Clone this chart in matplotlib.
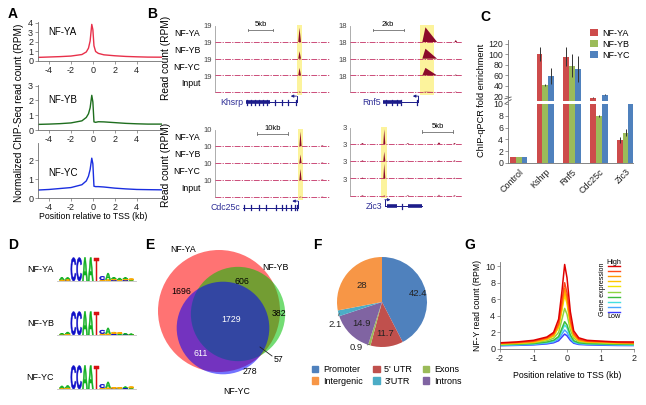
import numpy as np
import matplotlib
matplotlib.use('Agg')
import matplotlib.pyplot as plt
from matplotlib.patches import Circle, Patch, PathPatch, Rectangle
from matplotlib.textpath import TextPath
from matplotlib.font_manager import FontProperties
from matplotlib.transforms import Affine2D, blended_transform_factory

plt.rcParams['font.family'] = ['Liberation Sans', 'DejaVu Sans']
plt.rcParams['axes.linewidth'] = 0.6
plt.rcParams['axes.unicode_minus'] = False

# ---------------- data ----------------
# A: average NF-Y profiles around TSS
a_x = [-5, -4, -3, -2, -1, -0.6, -0.4, -0.25, -0.1, 0.0, 0.1, 0.25, 0.5, 1, 2, 3, 4, 5, 6.3]
a_ya = [0.38, 0.42, 0.46, 0.52, 0.68, 0.95, 1.35, 2.1, 3.85, 3.3, 1.6, 1.0, 0.8, 0.65, 0.55, 0.48, 0.44, 0.41, 0.4]
a_yb = [0.38, 0.4, 0.43, 0.48, 0.62, 0.85, 1.1, 1.5, 2.35, 1.9, 0.55, 0.52, 0.56, 0.55, 0.5, 0.45, 0.42, 0.4, 0.4]
a_yc = [0.42, 0.45, 0.5, 0.55, 0.7, 0.9, 1.15, 1.5, 2.1, 1.8, 0.62, 0.6, 0.6, 0.58, 0.52, 0.48, 0.45, 0.44, 0.43]
a_names = ['NF-YA', 'NF-YB', 'NF-YC']
a_colors = ['#e8304a', '#1e6e1e', '#1a2ee0']

# B: browser tracks
b_genes = ['Khsrp', 'Rnf5', 'Cdc25c', 'Zic3']
b_tracks = ['NF-YA', 'NF-YB', 'NF-YC', 'Input']
b_window = [23, 7.2, 37, 18]
b_track_max = ['19', '18', '10', '3']
b_scale_len = [5, 2, 10, 5]
b_scale_start = [6.6, 1.45, 13.5, 11.6]
b_peak_kb = [16.9, 4.85, 27.5, 5.5]
b_peak_left = [0.25, 0.2, 0.35, 0.15]
b_peak_right = [0.3, 0.75, 0.35, 0.18]
b_peak_height = [[0.85, 0.45, 0.45, 0.03],
                 [0.88, 0.6, 0.45, 0.02],
                 [0.85, 0.5, 0.65, 0.02],
                 [0.85, 0.55, 0.85, 0.03]]
b_bump_kb = [[], [6.8], [34.5], [2.0, 9.3, 14.3, 16.8]]
b_bump_height = [[], [[0.12, 0.0, 0.06, 0.03]], [[0.04, 0.03, 0.03, 0.02]],
                 [[0.06, 0.05, 0.05, 0.04], [0.05, 0.03, 0.04, 0.04],
                  [0.1, 0.04, 0.05, 0.05], [0.06, 0.05, 0.04, 0.04]]]
b_highlight = [(16.4, 17.4), (4.5, 5.4), (26.7, 28.3), (5.0, 5.95)]
b_gene_span = [(6.2, 16.3), (2.15, 4.4), (9.0, 26.7), (5.6, 11.6)]
b_gene_thick = [[(6.2, 11.0)], [(2.15, 3.35)], [], [(5.9, 7.5), (9.3, 11.6)]]
b_gene_exons = [[6.4, 7.2, 8.0, 8.8, 9.6, 10.4, 12.0, 13.4, 14.6, 16.1],
                [2.3, 2.7, 3.0, 3.3, 4.3],
                [9.3, 11.5, 14.0, 16.5, 19.5, 21.5, 23.0, 24.5, 25.8, 26.5],
                [8.4]]
b_gene_strand = ['-', '-', '-', '+']

# C: ChIP-qPCR
c_groups = ['Control', 'Kshrp', 'Rnf5', 'Cdc25c', 'Zic3']
c_ya = [1, 100, 95, 17, 3.9]
c_yb = [1, 41, 78, 7.9, 5.1]
c_yc = [1, 58, 72, 23, 10.4]
c_ya_err = [0, 13, 18, 1.0, 0.5]
c_yb_err = [0, 1.5, 22, 0.2, 0.6]
c_yc_err = [0, 15, 25, 0.8, 0.3]

# D: motif logos (stacks bottom->top)
logo_ya = [[('G', 0.1), ('A', 0.22)], [('C', 0.05), ('G', 0.1), ('A', 0.15)],
           [('C', 2.0)], [('C', 2.0)], [('A', 2.0)], [('A', 2.0)], [('T', 2.0)],
           [('G', 0.1), ('C', 0.3)], [('G', 0.12), ('A', 0.55)],
           [('C', 0.08), ('G', 0.12), ('A', 0.12)], [('G', 0.1), ('A', 0.15)],
           [('C', 0.08), ('G', 0.12), ('A', 0.1)], [('A', 0.08), ('G', 0.12)]]
logo_yb = [[('G', 0.05), ('A', 0.1)], [('G', 0.1), ('A', 0.15)],
           [('C', 2.0)], [('C', 2.0)], [('A', 2.0)], [('A', 2.0)], [('T', 2.0)],
           [('G', 0.12), ('C', 0.3)], [('G', 0.1), ('A', 0.5)],
           [('C', 0.1), ('G', 0.15)], [('A', 0.1), ('G', 0.12)],
           [('C', 0.05), ('A', 0.1)], [('G', 0.05), ('A', 0.05)]]
logo_yc = [[('G', 0.08), ('A', 0.18)], [('G', 0.1), ('A', 0.2)],
           [('C', 2.0)], [('C', 2.0)], [('A', 2.0)], [('A', 2.0)], [('T', 2.0)],
           [('G', 0.1), ('C', 0.3)], [('G', 0.1), ('A', 0.5)],
           [('C', 0.05), ('G', 0.1)], [('A', 0.05), ('G', 0.1)],
           [('C', 0.08), ('A', 0.12)], [('A', 0.08), ('G', 0.12)]]
logo_colors = {'A': '#10b020', 'C': '#1010c8', 'G': '#f5a800', 'T': '#d81010'}

# E: Venn counts
e_only_a, e_only_b, e_only_c = 1696, 382, 278
e_ab, e_ac, e_bc, e_abc = 606, 611, 57, 1729

# F: peak distribution (%)
f_labels = ['Promoter', "5' UTR", 'Exons', 'Introns', "3'UTR", 'Intergenic']
f_values = [42.4, 11.7, 0.9, 14.9, 2.1, 28]
f_colors = ['#4f81bd', '#c0504d', '#9bbb59', '#8064a2', '#4bacc6', '#f79646']

# G: profiles by gene expression (high -> low)
g_x = [-2, -1.5, -1, -0.6, -0.4, -0.25, -0.15, -0.07, 0.0, 0.1, 0.2, 0.35, 0.6, 1.0, 1.5, 2.0]
g_curves = [
    [0.75, 0.85, 1.05, 1.45, 2.0, 3.6, 7.0, 10.2, 8.6, 4.5, 2.2, 1.35, 1.05, 0.95, 0.85, 0.85],
    [0.7, 0.8, 0.95, 1.35, 1.85, 3.1, 5.8, 8.0, 6.8, 3.6, 1.9, 1.2, 0.95, 0.9, 0.8, 0.75],
    [0.68, 0.75, 0.9, 1.25, 1.7, 2.9, 5.3, 7.3, 6.2, 3.3, 1.75, 1.1, 0.9, 0.85, 0.78, 0.72],
    [0.65, 0.72, 0.85, 1.2, 1.6, 2.7, 5.0, 6.9, 5.9, 3.1, 1.65, 1.05, 0.88, 0.82, 0.75, 0.7],
    [0.62, 0.7, 0.82, 1.15, 1.55, 2.6, 4.7, 6.5, 5.5, 2.9, 1.55, 1.0, 0.85, 0.8, 0.72, 0.68],
    [0.58, 0.64, 0.75, 1.0, 1.3, 2.0, 3.6, 4.9, 4.2, 2.3, 1.3, 0.9, 0.78, 0.72, 0.66, 0.62],
    [0.52, 0.58, 0.66, 0.85, 1.05, 1.5, 2.5, 3.3, 2.9, 1.7, 1.0, 0.75, 0.66, 0.62, 0.58, 0.55],
    [0.48, 0.54, 0.62, 0.8, 0.98, 1.4, 2.2, 2.9, 2.55, 1.5, 0.92, 0.7, 0.62, 0.58, 0.54, 0.5],
    [0.44, 0.48, 0.56, 0.7, 0.85, 1.2, 1.8, 2.3, 2.0, 1.25, 0.8, 0.62, 0.56, 0.52, 0.48, 0.46],
    [0.4, 0.44, 0.5, 0.62, 0.75, 1.0, 1.45, 1.8, 1.6, 1.05, 0.7, 0.55, 0.5, 0.46, 0.43, 0.42],
]
g_colors = ['#e00000', '#ff4a1a', '#ff9a00', '#ffc400', '#f2e400',
            '#8fd640', '#3cbc3c', '#46e0e0', '#4aa8ff', '#3a3aff']

# ---------------- figure ----------------
W, H = 646, 405
fig = plt.figure(figsize=(W / 100, H / 100), dpi=100)


def px_ax(l, t, r, b):
    return fig.add_axes([l / W, 1 - b / H, (r - l) / W, (b - t) / H])


def ftext(x, y, s, **kw):
    fig.text(x / W, 1 - y / H, s, **kw)


def clean(ax):
    for s in ['top', 'right']:
        ax.spines[s].set_visible(False)
    for s in ['left', 'bottom']:
        ax.spines[s].set_color('#707070')
    ax.tick_params(labelsize=6.5, length=2, width=0.5, pad=1.5, colors='#707070', labelcolor='#222')


# panel letters
for lab, x, y in [('A', 13, 14), ('B', 152, 14), ('C', 485, 17), ('D', 13, 245),
                  ('E', 150, 245), ('F', 317, 245), ('G', 470, 245)]:
    ftext(x, y, lab, fontsize=10, fontweight='bold', ha='center', va='center')

# ---- A ----
a_boxes = [(22, 61), (85, 130), (143, 198)]
a_ylims = [4.1, 3.05, 2.9]
a_yticks = [[0, 1, 2, 3, 4], [0, 1, 2, 3], [0, 1, 2]]
a_name_y = [32, 100, 173]
for prof, name, col, (t, b), yl, yt, ny in zip([a_ya, a_yb, a_yc], a_names, a_colors,
                                              a_boxes, a_ylims, a_yticks, a_name_y):
    ax = px_ax(38, t, 162, b)
    ax.plot(a_x, prof, color=col, lw=1.0)
    ax.set_xlim(-5, 6.3)
    ax.set_ylim(0, yl)
    ax.set_xticks([-4, -2, 0, 2, 4])
    ax.set_yticks(yt)
    clean(ax)
    ftext(48, ny, name, fontsize=7, va='center')
ftext(19, 113, 'Normalized ChIP-Seq read count (RPM)', rotation=90, fontsize=7.2,
      ha='center', va='center')
ftext(93, 217, 'Position relative to TSS (kb)', fontsize=6.3, ha='center', va='center')

# ---- B ----
b_layout = [(215, 330, 42, 16.7), (350, 462, 42, 16.7), (215, 330, 146, 17.0), (350, 462, 144, 17.2)]
gene_col = '#1c1c8a'
peak_col = '#8b0a2a'
for k in range(4):
    x0, x1, yA, u = b_layout[k]
    win = b_window[k]
    ax = px_ax(x0, yA - 1.25 * u, x1, yA + 4 * u)
    ax.set_xlim(0, win)
    ax.set_ylim(-1, 4.25)
    ax.axis('off')
    hl = b_highlight[k]
    ax.add_patch(Rectangle((hl[0], -0.15), hl[1] - hl[0], 4.15, color='#fcf39c', lw=0, zorder=0))
    ax.plot([0, 0], [0, 3.95], color='#a0a0a0', lw=0.6)
    p = b_peak_kb[k]
    for i in range(4):
        base = 3 - i
        ax.plot([0, win], [base, base], color='#c43064', lw=0.6, dashes=(7, 1.5, 1.5, 1.5), zorder=2)
        h = b_peak_height[k][i]
        ax.fill([p - b_peak_left[k], p, p + b_peak_right[k]], [base, base + h, base],
                color=peak_col, lw=0, zorder=3)
        for bk, bh in zip(b_bump_kb[k], b_bump_height[k]):
            ax.fill([bk - 0.012 * win, bk, bk + 0.012 * win], [base, base + bh[i], base],
                    color=peak_col, lw=0, zorder=3)
        ax.annotate(b_track_max[k], xy=(0, base + 0.9), xycoords=('axes fraction', 'data'),
                    xytext=(-2.5, 0), textcoords='offset points', ha='right', va='center',
                    fontsize=5.5, color='#444')
        if k in (0, 2):
            ax.annotate(b_tracks[i], xy=(0, base + 0.5), xycoords=('axes fraction', 'data'),
                        xytext=(-10.5, 0), textcoords='offset points', ha='right', va='center',
                        fontsize=6.3)
    # scale bar
    s0 = b_scale_start[k]
    s1 = s0 + b_scale_len[k]
    ax.plot([s0, s1], [3.72, 3.72], color='#707070', lw=0.6)
    ax.plot([s0, s0], [3.64, 3.8], color='#707070', lw=0.6)
    ax.plot([s1, s1], [3.64, 3.8], color='#707070', lw=0.6)
    ax.text((s0 + s1) / 2, 3.82, '%dkb' % b_scale_len[k], ha='center', va='bottom', fontsize=5.5)
    # gene model
    yg = -0.62
    gs, ge = b_gene_span[k]
    ax.plot([gs, ge], [yg, yg], color=gene_col, lw=0.7)
    for s, e in b_gene_thick[k]:
        ax.plot([s, e], [yg, yg], color=gene_col, lw=2.6, solid_capstyle='butt')
    for ex in b_gene_exons[k]:
        ax.plot([ex, ex], [yg - 0.14, yg + 0.14], color=gene_col, lw=0.9)
    tss = ge if b_gene_strand[k] == '-' else gs
    d = -1 if b_gene_strand[k] == '-' else 1
    ax.plot([tss, tss], [yg, yg + 0.38], color=gene_col, lw=0.7)
    ax.annotate('', xy=(tss + d * 0.05 * win, yg + 0.38), xytext=(tss, yg + 0.38),
                arrowprops=dict(arrowstyle='-|>', lw=0.6, color=gene_col, mutation_scale=4,
                                shrinkA=0, shrinkB=0))
    ax.text(gs - 0.025 * win, yg, b_genes[k], ha='right', va='center', fontsize=6.3, color='#2e2e96')
ftext(166, 58, 'Read count (RPM)', rotation=90, fontsize=7.3, ha='center', va='center')
ftext(166, 165, 'Read count (RPM)', rotation=90, fontsize=7.3, ha='center', va='center')

# ---- C ----
c_k = 0.0888
c_gap = 0.4


def c_fwd(y):
    y = np.asarray(y, dtype=float)
    return np.where(y <= 10, y, 10 + c_gap + (y - 10) * c_k)


def c_inv(v):
    v = np.asarray(v, dtype=float)
    return np.where(v <= 10, v, np.where(v < 10 + c_gap, 10, 10 + (v - 10 - c_gap) / c_k))


ax = px_ax(508, 40, 633, 163)
ax.set_yscale('function', functions=(c_fwd, c_inv))
xg = np.arange(len(c_groups))
bw = 0.22
ekw = dict(ecolor='#333333', elinewidth=0.7, capsize=0)
ax.bar(xg - bw, c_ya, bw, yerr=c_ya_err, color='#cd4b4b', error_kw=ekw, label='NF-YA')
ax.bar(xg, c_yb, bw, yerr=c_yb_err, color='#9bbb59', error_kw=ekw, label='NF-YB')
ax.bar(xg + bw, c_yc, bw, yerr=c_yc_err, color='#4f81bd', error_kw=ekw, label='NF-YC')
ax.axhspan(10, 10.01, color='white', lw=0, zorder=2.2)
ax.set_ylim(0, 127)
ax.set_xlim(-0.4, 4.28)
ax.set_yticks([0, 2, 4, 6, 8, 10, 20, 40, 60, 80, 100, 120])
ax.set_yticklabels(['0', '2', '4', '6', '8', '10', '20', '40', '60', '80', '100', '120'])
ax.yaxis.set_minor_locator(matplotlib.ticker.NullLocator())
ax.set_xticks(xg)
ax.set_xticklabels(c_groups, rotation=45, ha='right', rotation_mode='anchor')
clean(ax)
ax.tick_params(axis='y', labelsize=6.3)
ax.tick_params(axis='x', length=0, pad=3)
blend = blended_transform_factory(ax.transAxes, ax.transData)
for yy in (11.0, 16.0):
    ax.plot([-0.025, 0.025], [yy - 1.0, yy + 2.5], transform=blend, color='#555', lw=0.6, clip_on=False)
ax.legend(loc='upper left', bbox_to_anchor=(590 / W, 1 - 29 / H), bbox_transform=fig.transFigure,
          frameon=False, fontsize=6.5, handlelength=0.9, handleheight=0.8, labelspacing=0.2,
          handletextpad=0.5, borderpad=0, borderaxespad=0)
ftext(481, 100, 'ChIP-qPCR fold enrichment', rotation=90, fontsize=6.6, ha='center', va='center')

# ---- D ----
logo_fp = FontProperties(family='Liberation Sans', weight='bold')


def draw_letter(ax, ch, x, y, w, h):
    tp = TextPath((0, 0), ch, size=1, prop=logo_fp)
    bb = tp.get_extents()
    tr = Affine2D().translate(-bb.x0, -bb.y0).scale(w / bb.width, h / bb.height).translate(x, y)
    ax.add_patch(PathPatch(tr.transform_path(tp), fc=logo_colors[ch], ec=logo_colors[ch], lw=0.35))


for name, cols, by, ly in zip(a_names, [logo_ya, logo_yb, logo_yc], [281, 335, 389], [270, 323, 377]):
    ax = px_ax(59, by - 24, 134, by)
    ax.set_xlim(-0.5, len(cols) - 0.5)
    ax.set_ylim(0, 2.05)
    ax.axis('off')
    for j, stack in enumerate(cols):
        y = 0
        for ch, h in stack:
            draw_letter(ax, ch, j - 0.45, y, 0.9, h)
            y += h
    ax.plot([-0.8, len(cols) - 0.2], [0, 0], color='#c0c0c0', lw=0.6, clip_on=False)
    ftext(54, ly, name, ha='right', va='center', fontsize=6.5)

# ---- E ----
tot_a = e_only_a + e_ab + e_ac + e_abc
tot_b = e_only_b + e_ab + e_bc + e_abc
tot_c = e_only_c + e_ac + e_bc + e_abc
rk = 61 / np.sqrt(tot_a)
ax = px_ax(140, 235, 300, 405)
ax.set_xlim(140, 300)
ax.set_ylim(405, 235)
ax.set_aspect('equal')
ax.axis('off')
ax.add_patch(Circle((219, 311), rk * np.sqrt(tot_a), fc='#ff0000', alpha=0.55, lw=0))
ax.add_patch(Circle((238, 314), rk * np.sqrt(tot_b), fc='#00c000', alpha=0.55, lw=0))
ax.add_patch(Circle((223, 328), rk * np.sqrt(tot_c), fc='#0000ff', alpha=0.55, lw=0))
vfs = 6.3
ax.text(183, 250, 'NF-YA', fontsize=vfs, ha='center', va='center')
ax.text(275, 267, 'NF-YB', fontsize=vfs, ha='center', va='center')
ax.text(237, 392, 'NF-YC', fontsize=vfs, ha='center', va='center')
ax.text(181, 291, str(e_only_a), fontsize=vfs, ha='center', va='center')
ax.text(242, 281, str(e_ab), fontsize=vfs, ha='center', va='center')
ax.text(279, 314, str(e_only_b), fontsize=vfs, ha='center', va='center')
ax.text(231, 320, str(e_abc), fontsize=vfs, ha='center', va='center', color='white')
ax.text(201, 354, str(e_ac), fontsize=vfs, ha='center', va='center', color='white')
ax.text(279, 360, str(e_bc), fontsize=vfs, ha='center', va='center')
ax.text(250, 372, str(e_only_c), fontsize=vfs, ha='center', va='center')
ax.plot([260, 272], [347, 356], color='#222', lw=0.6)

# ---- F ----
ax = px_ax(337, 257, 427, 347)
wedges, _ = ax.pie(f_values, colors=f_colors, startangle=90, counterclock=False,
                   wedgeprops=dict(linewidth=0))
ax.set_xlim(-1, 1)
ax.set_ylim(-1, 1)
f_label_r = [0.83, 0.7, None, 0.66, None, 0.58]
f_out_text = {2: (-0.42, -1.02), 4: (-0.9, -0.5)}
for idx, (w, v, r) in enumerate(zip(wedges, f_values, f_label_r)):
    ang = np.deg2rad((w.theta1 + w.theta2) / 2)
    if r is not None:
        ax.text(r * np.cos(ang), r * np.sin(ang), '%g' % v, ha='center', va='center',
                fontsize=6.8, color='#222')
    else:
        ax.annotate('%g' % v, xy=(np.cos(ang) * 0.98, np.sin(ang) * 0.98), xytext=f_out_text[idx],
                    ha='right', va='center', fontsize=6.8, color='#222',
                    arrowprops=dict(arrowstyle='-', lw=0.5, color='#555', shrinkA=1, shrinkB=0))
f_order = [0, 5, 1, 4, 2, 3]
fig.legend([Patch(color=f_colors[i]) for i in f_order], [f_labels[i] for i in f_order],
           ncol=3, loc='upper left', bbox_to_anchor=(312 / W, 1 - 365 / H), frameon=False,
           fontsize=6.5, handlelength=0.7, handleheight=0.7, handletextpad=0.5,
           columnspacing=1.2, labelspacing=0.3, borderpad=0, borderaxespad=0)

# ---- G ----
ax = px_ax(500, 262, 634, 349)
for curve, col in reversed(list(zip(g_curves, g_colors))):
    ax.plot(g_x, curve, color=col, lw=1.1)
ax.set_xlim(-2, 2)
ax.set_ylim(0, 10.5)
ax.set_xticks([-2, -1, 0, 1, 2])
ax.set_yticks([0, 2, 4, 6, 8, 10])
clean(ax)
for i, col in enumerate(g_colors):
    yy = (349 - (266 + i * 5.1)) / 87
    ax.plot([0.806, 0.895], [yy, yy], color=col, lw=1.0, transform=ax.transAxes)
ax.text(0.85, 1.0, 'High', transform=ax.transAxes, fontsize=5.2, ha='center', va='center')
ax.text(0.85, 0.37, 'Low', transform=ax.transAxes, fontsize=5.2, ha='center', va='center')
ax.text(0.765, 0.69, 'Gene expression', transform=ax.transAxes, fontsize=5, rotation=90,
        ha='center', va='center')
ftext(478, 305, 'NF-Y read count (RPM)', rotation=90, fontsize=6.2, ha='center', va='center')
ftext(567, 375, 'Position relative to TSS (kb)', fontsize=6.3, ha='center', va='center')

fig.savefig('out.png', dpi=100)
